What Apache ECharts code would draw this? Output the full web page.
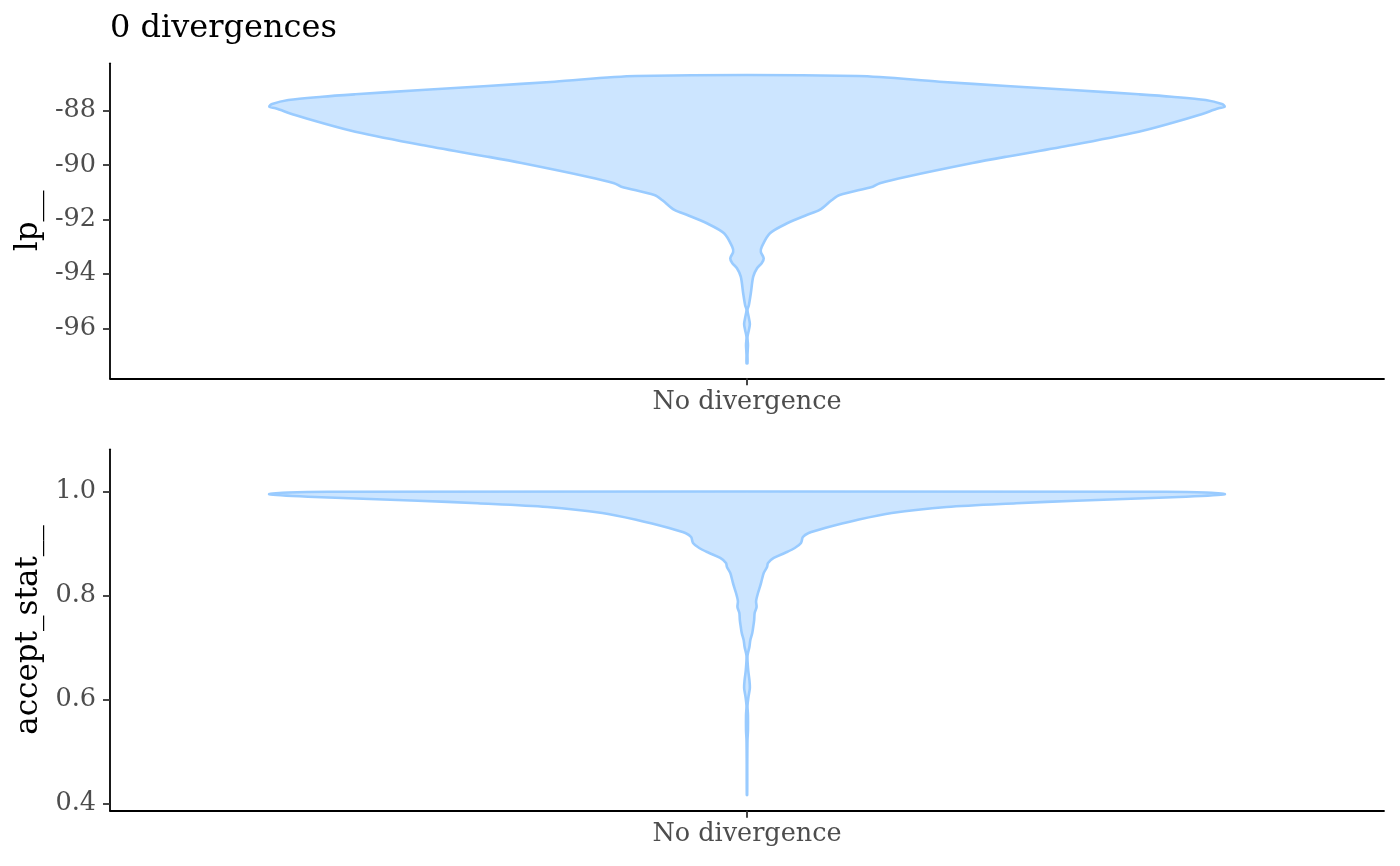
<!DOCTYPE html>
<html><head><meta charset="utf-8">
<script src="https://cdn.jsdelivr.net/npm/echarts@6/dist/echarts.min.js"></script>
<style>html,body{margin:0;padding:0;background:#fff}#c{width:1400px;height:866px}</style>
</head><body><div id="c"></div>
<script>
// ---- data ----
const categories = ['No divergence'];
const titleText = '0 divergences';
const lpName = 'lp__';
const accName = 'accept_stat__';
const lpTicks = [-96, -94, -92, -90, -88];
const accTicks = [0.4, 0.6, 0.8, 1.0];

// lp__ violin: value (top to bottom) and relative density (1 = widest)
const lpValues = [-86.724, -86.934, -87.092, -87.239, -87.397, -87.485, -87.607, -87.754, -87.853, -87.912,
  -88.158, -88.452, -88.772, -89.261, -89.691, -89.923, -90.426, -90.669, -90.794, -91.099, -91.294,
  -91.651, -91.835, -92.140, -92.507, -93.000, -93.195, -93.426, -93.599, -93.794, -94.103, -94.713,
  -95.143, -95.327, -95.621, -95.842, -96.063, -96.320, -96.614, -96.982, -97.287];
const lpDensity = [0.232, 0.403, 0.543, 0.681, 0.820, 0.889, 0.960, 0.994, 1.000, 0.987,
  0.946, 0.889, 0.820, 0.681, 0.543, 0.472, 0.334, 0.278, 0.263, 0.194, 0.177,
  0.152, 0.125, 0.084, 0.048, 0.031, 0.029, 0.035, 0.031, 0.021, 0.013, 0.008,
  0.004, 0.001, 0.004, 0.006, 0.004, 0.001, 0.002, 0.001, 0.001];

// accept_stat__ violin
const accValues = [1.0000, 0.9985, 0.9950, 0.9904, 0.9827, 0.9777, 0.9705, 0.9590, 0.9455, 0.9301,
  0.9205, 0.9128, 0.9013, 0.8916, 0.8820, 0.8724, 0.8628, 0.8551, 0.8435, 0.8300, 0.8166, 0.8050,
  0.7896, 0.7781, 0.7665, 0.7530, 0.7396, 0.7280, 0.7146, 0.7011, 0.6837, 0.6568, 0.6376, 0.6222,
  0.6049, 0.5876, 0.5702, 0.5414, 0.5221, 0.4836, 0.4162];
const accDensity = [0.877, 0.960, 1.000, 0.919, 0.689, 0.564, 0.418, 0.303, 0.230, 0.163,
  0.129, 0.117, 0.113, 0.100, 0.079, 0.056, 0.044, 0.042, 0.035, 0.031, 0.027, 0.023,
  0.019, 0.020, 0.016, 0.015, 0.013, 0.011, 0.007, 0.005, 0.001, 0.0025, 0.005, 0.006,
  0.003, 0.001, 0.002, 0.002, 0.001, 0.0006, 0.0004];

// ---- chart ----
const FONT = 'DejaVu Serif';
const HALF = 0.45; // half violin width in category units
const FILL = '#cce5ff', STROKE = '#99cbff';

function violin(values, dens) {
  return function (params, api) {
    const pts = [];
    for (let i = 0; i < values.length; i++) pts.push(api.coord([HALF * dens[i], values[i]]));
    for (let i = values.length - 1; i >= 0; i--) pts.push(api.coord([-HALF * dens[i], values[i]]));
    return {
      type: 'polygon',
      shape: { points: pts, smooth: 0.3 },
      style: { fill: FILL, stroke: STROKE, lineWidth: 2.6, lineJoin: 'round' }
    };
  };
}

function xAxis(gridIndex) {
  return {
    type: 'value', gridIndex, min: -0.6, max: 0.6,
    splitLine: { show: false },
    axisLine: { onZero: false, lineStyle: { color: '#000', width: 1.8 } },
    axisTick: { customValues: [0], length: 7, lineStyle: { color: '#333', width: 1.8 } },
    axisLabel: { customValues: [0], formatter: () => categories[0], margin: 11,
      fontFamily: FONT, fontSize: 25.5, color: '#4d4d4d' }
  };
}
function yAxis(gridIndex, min, max, ticks, name, digits) {
  return {
    type: 'value', gridIndex, min, max, name,
    nameLocation: 'middle', nameGap: 64, nameRotate: 90,
    nameTextStyle: { fontFamily: FONT, fontSize: 31, color: '#000' },
    splitLine: { show: false },
    axisLine: { show: true, onZero: false, lineStyle: { color: '#000', width: 1.8 } },
    axisTick: { show: true, customValues: ticks, length: 7, lineStyle: { color: '#333', width: 1.8 } },
    axisLabel: { customValues: ticks, formatter: v => Number(v).toFixed(digits), margin: 14,
      fontFamily: FONT, fontSize: 25.5, color: '#4d4d4d' }
  };
}

const chart = echarts.init(document.getElementById('c'), null, { renderer: 'canvas' });
chart.setOption({
  animation: false,
  backgroundColor: '#fff',
  title: { text: titleText, left: 105, top: 8,
    textStyle: { fontFamily: FONT, fontSize: 32, fontWeight: 'normal', color: '#000' } },
  grid: [
    { left: 110, right: 16, top: 63.3, height: 315 },
    { left: 110, right: 16, top: 449.3, height: 361.4 }
  ],
  xAxis: [xAxis(0), xAxis(1)],
  yAxis: [
    yAxis(0, -97.84, -86.257, lpTicks, lpName, 0),
    yAxis(1, 0.386, 1.0816, accTicks, accName, 1)
  ],
  series: [
    { type: 'custom', xAxisIndex: 0, yAxisIndex: 0, renderItem: violin(lpValues, lpDensity),
      data: [[0, lpValues[0]]], silent: true, clip: false },
    { type: 'custom', xAxisIndex: 1, yAxisIndex: 1, renderItem: violin(accValues, accDensity),
      data: [[0, accValues[0]]], silent: true, clip: false }
  ]
});
</script></body></html>
